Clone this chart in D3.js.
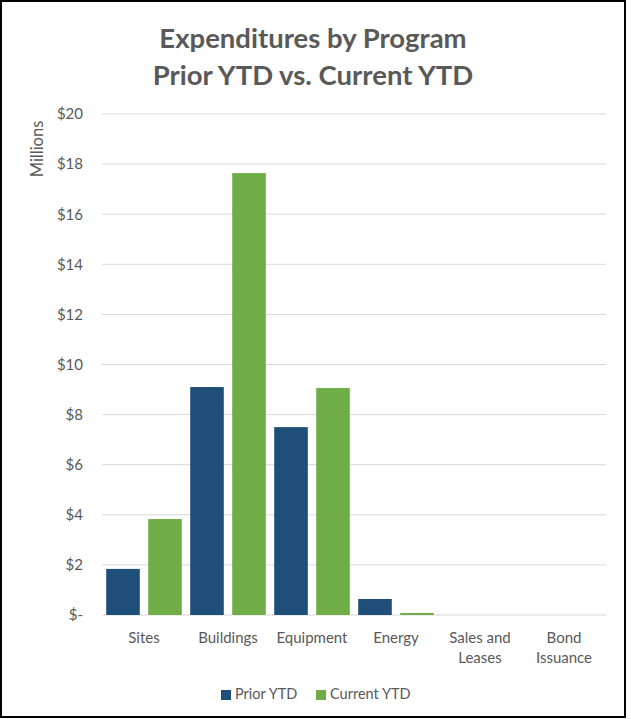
<!DOCTYPE html>
<html><head><meta charset="utf-8">
<script src="https://cdn.jsdelivr.net/npm/d3@7"></script>
<style>body{margin:0;background:#fff}svg{display:block}</style>
</head><body>
<svg id="c" width="631" height="719"></svg>
<script>
const categories = [["Sites"],["Buildings"],["Equipment"],["Energy"],["Sales and","Leases"],["Bond","Issuance"]];
const priorYTD = [1.84, 9.10, 7.50, 0.64, 0, 0];
const currentYTD = [3.83, 17.64, 9.06, 0.08, 0, 0];
const seriesNames = ["Prior YTD", "Current YTD"];
const colors = ["#1F4E79", "#70AD47"];
const yTicks = [0,2,4,6,8,10,12,14,16,18,20];

const svg = d3.select("#c");
const font = "Lato, 'Open Sans', sans-serif";
const txt = "#595959";
svg.append("rect").attr("x",1).attr("y",1).attr("width",624).attr("height",716)
  .attr("fill","#fff").attr("stroke","#000").attr("stroke-width",2);

const x = d3.scaleBand().domain(d3.range(categories.length)).range([102,606]).padding(0);
const y = d3.scaleLinear().domain([0,20]).range([615,114]);
const inner = d3.scaleBand().domain([0,1]).range([0,x.bandwidth()]).paddingInner(0.2).paddingOuter(0.1);

// gridlines
svg.append("g").selectAll("line").data(yTicks).join("line")
  .attr("x1",102).attr("x2",606).attr("y1",d=>y(d)).attr("y2",d=>y(d))
  .attr("stroke","#D9D9D9").attr("stroke-width",1);

// y axis labels
const yAxis = d3.axisLeft(y).tickValues(yTicks).tickSize(0).tickPadding(0)
  .tickFormat(d=> d===0 ? "$-" : "$"+d);
const ya = svg.append("g").attr("transform","translate(83,0)").call(yAxis);
ya.select(".domain").remove();
ya.selectAll("text").attr("font-family",font).attr("font-size",15).attr("fill",txt);

// bars
const series = [priorYTD, currentYTD];
series.forEach((vals,si)=>{
  svg.append("g").selectAll("rect").data(vals).join("rect")
    .attr("x",(d,i)=>x(i)+inner(si))
    .attr("width",inner.bandwidth())
    .attr("y",d=>y(d))
    .attr("height",d=>y(0)-y(d))
    .attr("fill",colors[si]);
});

// x labels
const xl = svg.append("g");
categories.forEach((lines,i)=>{
  const t = xl.append("text").attr("text-anchor","middle").attr("font-family",font)
    .attr("font-size",15).attr("fill",txt);
  lines.forEach((l,j)=>t.append("tspan").attr("x",x(i)+x.bandwidth()/2).attr("y",643+j*20).text(l));
});

// title
const title = svg.append("text").attr("text-anchor","middle").attr("font-family",font)
  .attr("font-weight","bold").attr("font-size",27.5).attr("fill",txt);
title.append("tspan").attr("x",313).attr("y",48).text("Expenditures by Program");
title.append("tspan").attr("x",313).attr("y",85).text("Prior YTD vs. Current YTD");

// y label
svg.append("text").attr("transform","translate(43,149) rotate(-90)").attr("text-anchor","middle")
  .attr("font-family",font).attr("font-size",16.5).attr("fill",txt).text("Millions");

// legend
const lg = svg.append("g");
const lx = [221, 316];
seriesNames.forEach((n,i)=>{
  lg.append("rect").attr("x",lx[i]).attr("y",690).attr("width",10).attr("height",10).attr("fill",colors[i]);
  lg.append("text").attr("x",lx[i]+14).attr("y",699).attr("font-family",font).attr("font-size",14.5)
    .attr("fill",txt).text(n);
});
</script>
</body></html>
